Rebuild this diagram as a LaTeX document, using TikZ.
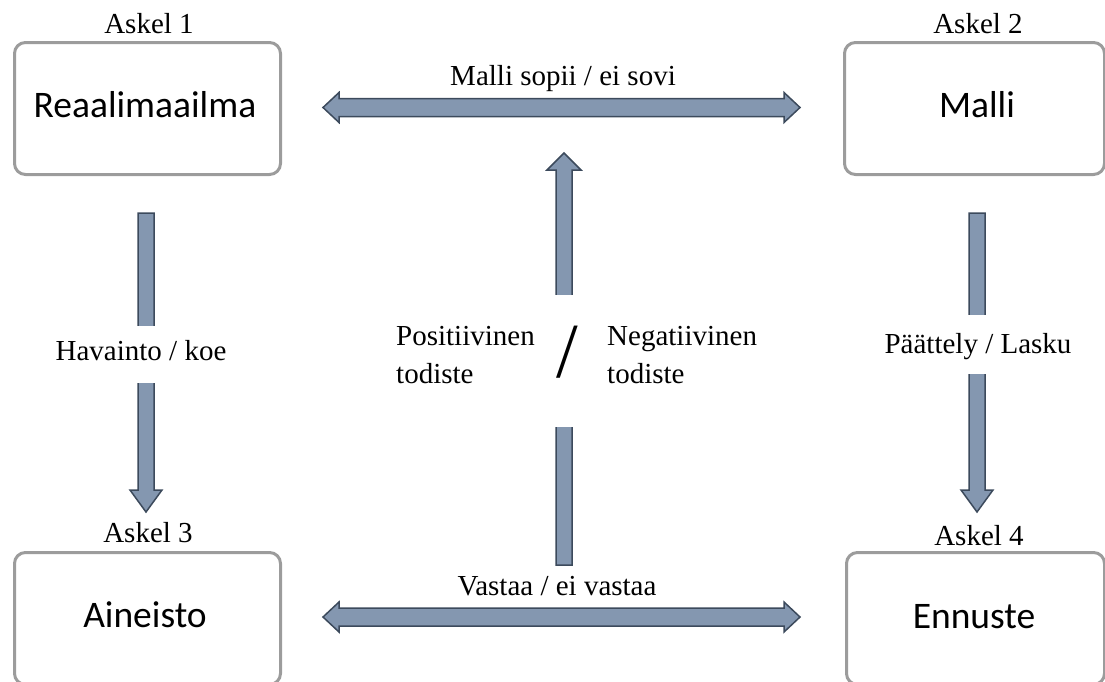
\documentclass[tikz,border=0pt]{standalone}
\usepackage{fontspec}
\setmainfont{Liberation Serif}
\newfontfamily\boxfont{Carlito}
\usetikzlibrary{calc}
\definecolor{arrowfill}{HTML}{8497B0}
\definecolor{arrowline}{HTML}{3C4A5C}
\definecolor{boxline}{HTML}{9C9C9C}
\begin{document}
\begin{tikzpicture}[x=1pt,y=-1pt,
  stepbox/.style={draw=boxline, line width=3pt, rounded corners=11pt, fill=white, anchor=north west, inner sep=0pt},
  boxtext/.style={font=\boxfont\fontsize{37.5}{45}\selectfont, anchor=base, inner sep=0pt},
  lbl/.style={font=\fontsize{29}{38}\selectfont, anchor=base, inner sep=0pt},
  barrow/.style={fill=arrowfill, draw=arrowline, line width=1.5pt, line join=miter},
  gapfill/.style={fill=white, inner sep=0pt, minimum width=44pt}
]
\useasboundingbox (0,0) rectangle (1105,681);
\clip (0,0) rectangle (1105,681);

% boxes
\node[stepbox, minimum width=266pt, minimum height=132pt] (b1) at (13,41) {};
\node[stepbox, minimum width=260pt, minimum height=132pt] (b2) at (843,41) {};
\node[stepbox, minimum width=266pt, minimum height=132pt] (b3) at (13,551) {};
\node[stepbox, minimum width=258pt, minimum height=132pt] (b4) at (845,551) {};

\node[boxtext] (t1) at (145,117) {Reaalimaailma};
\node[boxtext] (t2) at (977,117) {Malli};
\node[boxtext] (t3) at (145,627) {Aineisto};
\node[boxtext] (t4) at (974,628) {Ennuste};

\node[lbl] (a1) at (149,33) {Askel 1};
\node[lbl] (a2) at (978,33) {Askel 2};
\node[lbl] (a3) at (148,542) {Askel 3};
\node[lbl] (a4) at (979,545) {Askel 4};

% top double arrow
\coordinate (hl1) at (323,107.5);
\coordinate (hr1) at (800,107.5);
\draw[barrow] (hl1) -- ++(16,-15) -- ++(0,6) -- ($(hr1)+(-16,-9)$) -- ++(0,-6) -- (hr1)
  -- ++(-16,15) -- ++(0,-6) -- ($(hl1)+(16,9)$) -- ++(0,6) -- cycle;
\node[lbl] (m1) at (563,85) {Malli sopii / ei sovi};

% bottom double arrow
\coordinate (hl2) at (323,617);
\coordinate (hr2) at (800,617);
\draw[barrow] (hl2) -- ++(16,-15) -- ++(0,6) -- ($(hr2)+(-16,-9)$) -- ++(0,-6) -- (hr2)
  -- ++(-16,15) -- ++(0,-6) -- ($(hl2)+(16,9)$) -- ++(0,6) -- cycle;
\node[lbl] (m2) at (557,595) {Vastaa / ei vastaa};

% left down arrow
\coordinate (vt1) at (146,213);
\coordinate (vh1) at (146,512);
\draw[barrow] ($(vt1)+(-8,0)$) -- ($(vt1)+(8,0)$) -- ($(vh1)+(8,-22)$) -- ++(8,0) -- (vh1)
  -- ++(-16,-22) -- ++(8,0) -- cycle;
\node[gapfill, minimum height=57pt] (g1) at (146,354.5) {};
\node[lbl] (l1) at (141,360) {Havainto / koe};

% right down arrow
\coordinate (vt2) at (977,213);
\coordinate (vh2) at (977,512);
\draw[barrow] ($(vt2)+(-8,0)$) -- ($(vt2)+(8,0)$) -- ($(vh2)+(8,-22)$) -- ++(8,0) -- (vh2)
  -- ++(-16,-22) -- ++(8,0) -- cycle;
\node[gapfill, minimum height=59pt] (g2) at (977,344.5) {};
\node[lbl] (l2) at (978,353) {Päättely / Lasku};

% centre up arrow
\coordinate (ct) at (564,153);
\coordinate (cb) at (564,565);
\draw[barrow] (ct) -- ++(17,17) -- ++(-9,0) -- ($(cb)+(8,0)$) -- ($(cb)+(-8,0)$)
  -- ($(ct)+(-8,17)$) -- ++(-9,0) -- cycle;
\node[gapfill, minimum height=132pt] (g3) at (564,361) {};
\node[font=\fontsize{78}{80}\selectfont, anchor=base, inner sep=0pt] (sl) at (567,377) {/};

\node[lbl, anchor=base west] (p1) at (396,345) {Positiivinen};
\node[lbl, anchor=base west] (p2) at (396,383) {todiste};
\node[lbl, anchor=base west] (n1) at (607,345) {Negatiivinen};
\node[lbl, anchor=base west] (n2) at (607,383) {todiste};
\end{tikzpicture}
\end{document}
